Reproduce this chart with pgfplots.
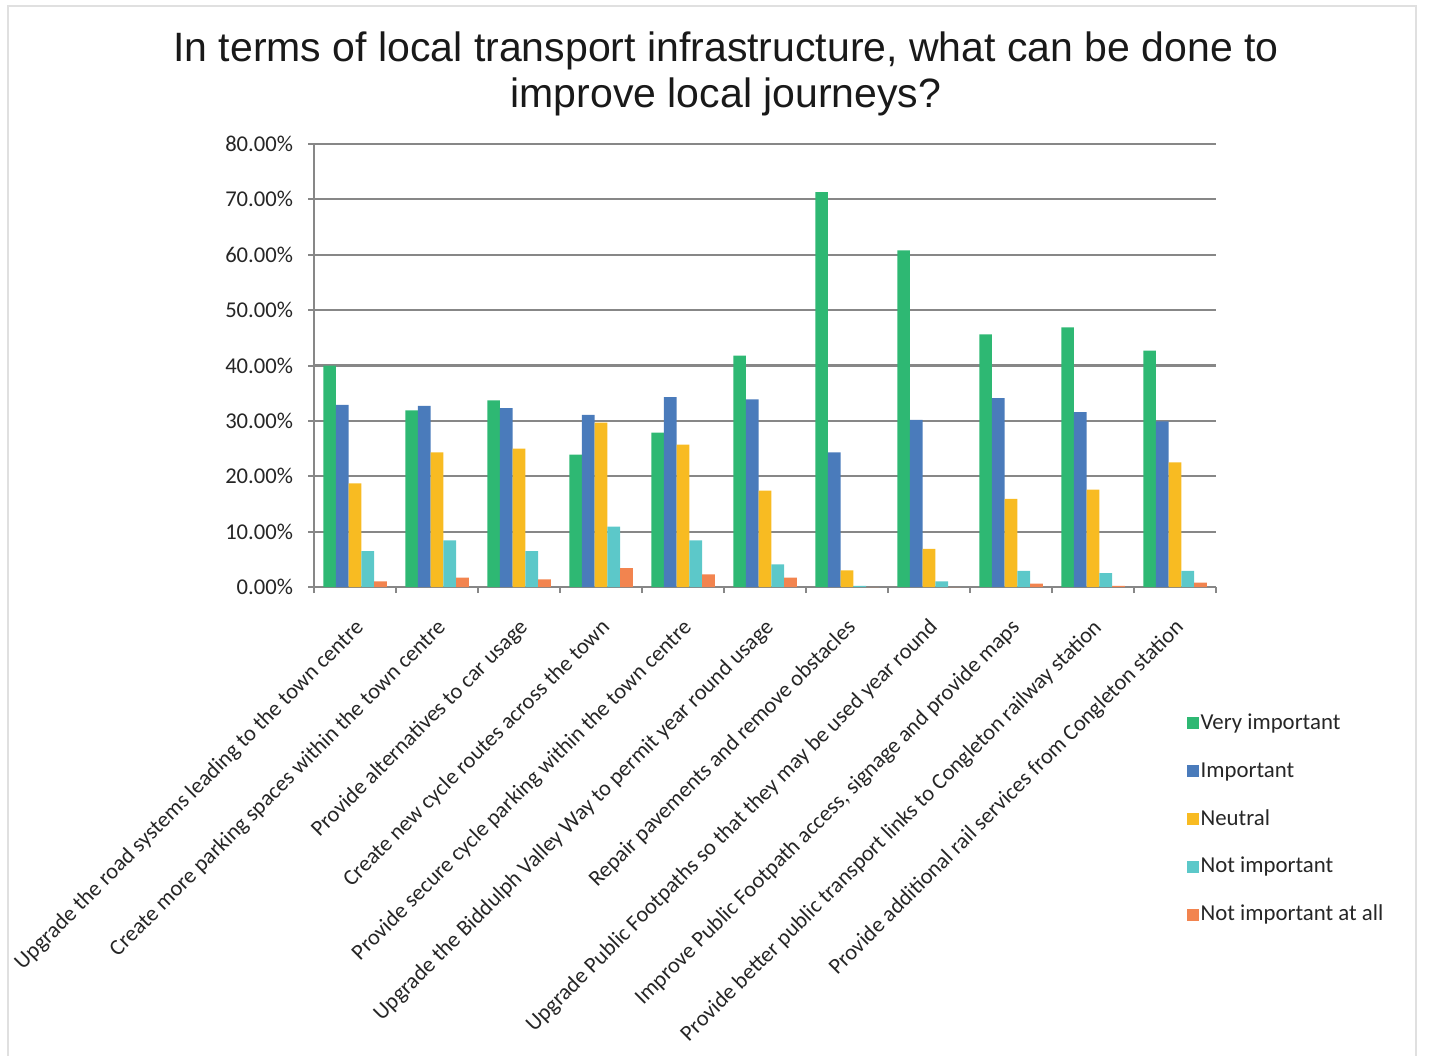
\documentclass[border=0pt]{standalone}
\usepackage{pgfplots}
\pgfplotsset{compat=1.18}
\usepackage{pgfplotstable}
\usepackage{fontspec}
\setmainfont{Carlito}
\newfontfamily\titlefont{Liberation Sans}
\definecolor{cVI}{RGB}{46,184,115}
\definecolor{cI}{RGB}{74,123,187}
\definecolor{cN}{RGB}{248,187,34}
\definecolor{cNI}{RGB}{92,200,201}
\definecolor{cNIA}{RGB}{242,132,79}
\definecolor{gridc}{RGB}{135,135,135}
\pgfplotstableread{
x VI I N NI NIA
0 40.0 32.9 18.7 6.5 1.0
1 31.9 32.7 24.3 8.4 1.7
2 33.7 32.3 25.0 6.5 1.4
3 23.9 31.1 29.7 10.9 3.4
4 27.9 34.3 25.7 8.4 2.3
5 41.8 33.9 17.4 4.1 1.7
6 71.3 24.3 3.0 0.2 0.0
7 60.8 30.2 6.9 1.0 0.0
8 45.6 34.1 15.9 2.9 0.6
9 46.9 31.6 17.6 2.5 0.2
10 42.7 29.9 22.5 2.9 0.8
}\datatable
\begin{document}
\begin{tikzpicture}
\useasboundingbox (0,0) rectangle (725pt,528pt);
\draw[black!12, line width=1pt] (4pt,0) -- (4pt,525pt) -- (708pt,525pt) -- (708pt,0);
\node[anchor=base, font=\titlefont\fontsize{20.5pt}{24pt}\selectfont, text=black!90] at (363pt,497pt) {In terms of local transport infrastructure, what can be done to};
\node[anchor=base, font=\titlefont\fontsize{20.5pt}{24pt}\selectfont, text=black!90] at (363pt,474pt) {improve local journeys?};
\begin{axis}[
  at={(157pt,234.5pt)}, anchor=south west,
  scale only axis, width=451pt, height=221.5pt,
  ybar=0pt, bar width=6.35pt,
  xmin=-0.5, xmax=10.5, ymin=0, ymax=80,
  ytick={0,10,...,80},
  yticklabel={\pgfmathprintnumber[fixed,fixed zerofill,precision=2]{\tick}\%},
  /pgf/number format/assume math mode=true,
  xtick={0,...,10},
  major x tick style={draw=none},
  minor xtick={-0.5,0.5,...,10.5},
  xticklabels={
    Upgrade the road systems leading to the town centre,
    Create more parking spaces within the town centre,
    Provide alternatives to car usage,
    Create new cycle routes across the town,
    Provide secure cycle parking within the town centre,
    Upgrade the Biddulph Valley Way to permit year round usage,
    Repair pavements and remove obstacles,
    Upgrade Public Footpaths so that they may be used year round,
    {Improve Public Footpath access, signage and provide maps},
    Provide better public transport links to Congleton railway station,
    Provide additional rail services from Congleton station},
  xticklabel style={rotate=45, anchor=north east, font=\fontsize{11.2pt}{13pt}\selectfont, text=black!85, inner sep=1pt, xshift=-8pt, yshift=-7pt},
  yticklabel style={font=\fontsize{11.3pt}{13pt}\selectfont, text=black!85, xshift=-4pt},
  tick align=outside,
  major tick length=3pt, minor tick length=3pt,
  tick style={gridc, line width=1pt},
  axis x line*=bottom, axis y line*=left,
  axis line style={gridc, line width=1.1pt},
  ymajorgrids, major grid style={gridc, line width=1.1pt},
  legend style={at={(0.967,-0.28)}, anchor=north west, draw=none, inner sep=0pt,
    font=\fontsize{11.4pt}{13pt}\selectfont, text=black!85,
    nodes={inner sep=1pt, text height=8pt, text depth=2pt},
    row sep=11.9pt},
  legend cell align=left,
  legend image code/.code={\fill[#1] (0pt,-3pt) rectangle (6pt,3pt);},
  every legend entry/.append style={xshift=3.5pt},
]
\addplot[fill=cVI, draw=none] table[x=x,y=VI] {\datatable};
\addplot[fill=cI, draw=none] table[x=x,y=I] {\datatable};
\addplot[fill=cN, draw=none] table[x=x,y=N] {\datatable};
\addplot[fill=cNI, draw=none] table[x=x,y=NI] {\datatable};
\addplot[fill=cNIA, draw=none] table[x=x,y=NIA] {\datatable};
\legend{Very important, Important, Neutral, Not important, Not important at all}
\end{axis}
\end{tikzpicture}
\end{document}
